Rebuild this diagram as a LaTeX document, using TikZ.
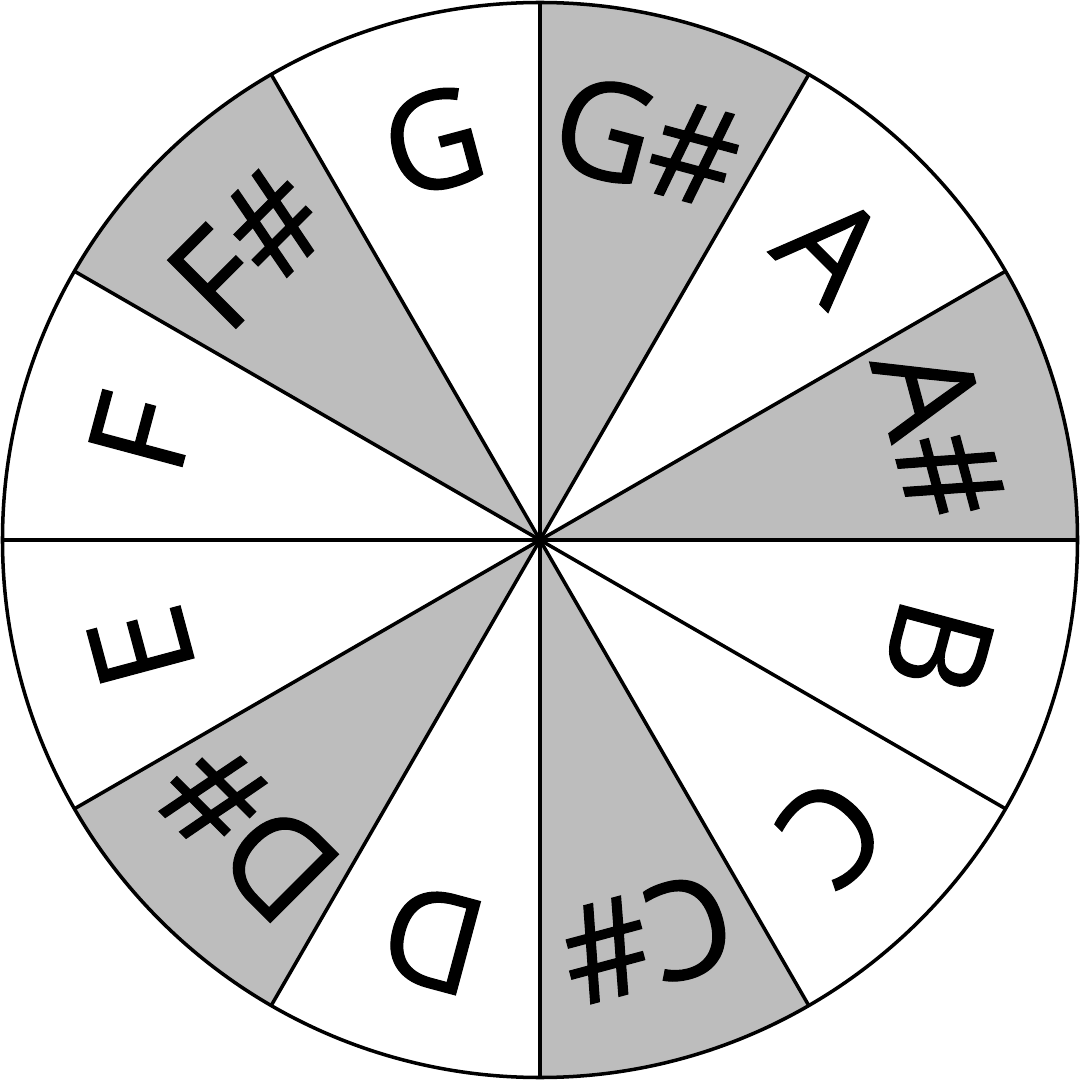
\documentclass[tikz,border=0pt]{standalone}
\usepackage{fontspec}
\setmainfont{Open Sans}
\newfontfamily\lblfont{Open Sans}[FakeBold=0.9]
\definecolor{sect}{RGB}{189,189,189}
\begin{document}
\begin{tikzpicture}[lbl/.style={font=\lblfont\fontsize{38.5}{40}\selectfont, inner sep=0pt, anchor=center},
  edge/.style={line width=1pt, draw=black}]
\useasboundingbox (-5.4,-5.4) rectangle (5.4,5.4);
\coordinate (O) at (0,0);
\foreach \a in {0,60,120,210,270}{
  \fill[sect] (O) -- (\a:5.375) arc[start angle=\a, end angle=\a+30, radius=5.375] -- cycle;
}
\foreach \a in {0,30,...,330}{
  \draw[edge] (O) -- (\a:5.375);
}
\draw[edge] (O) circle[radius=5.375];
\foreach \t/\s/\n in {105/G/G, 75/G\#/Gs, 45/A/A, 15/A\#/As, -15/B/B, -45/C/C, -75/C\#/Cs, -105/D/D, -135/D\#/Ds, -165/E/E, 165/F/F, 135/F\#/Fs}{
  \pgfmathsetmacro{\r}{\t-90}
  \node[lbl, rotate=\r] (n\n) at (\t:4.13) {\s};
}
\end{tikzpicture}
\end{document}
